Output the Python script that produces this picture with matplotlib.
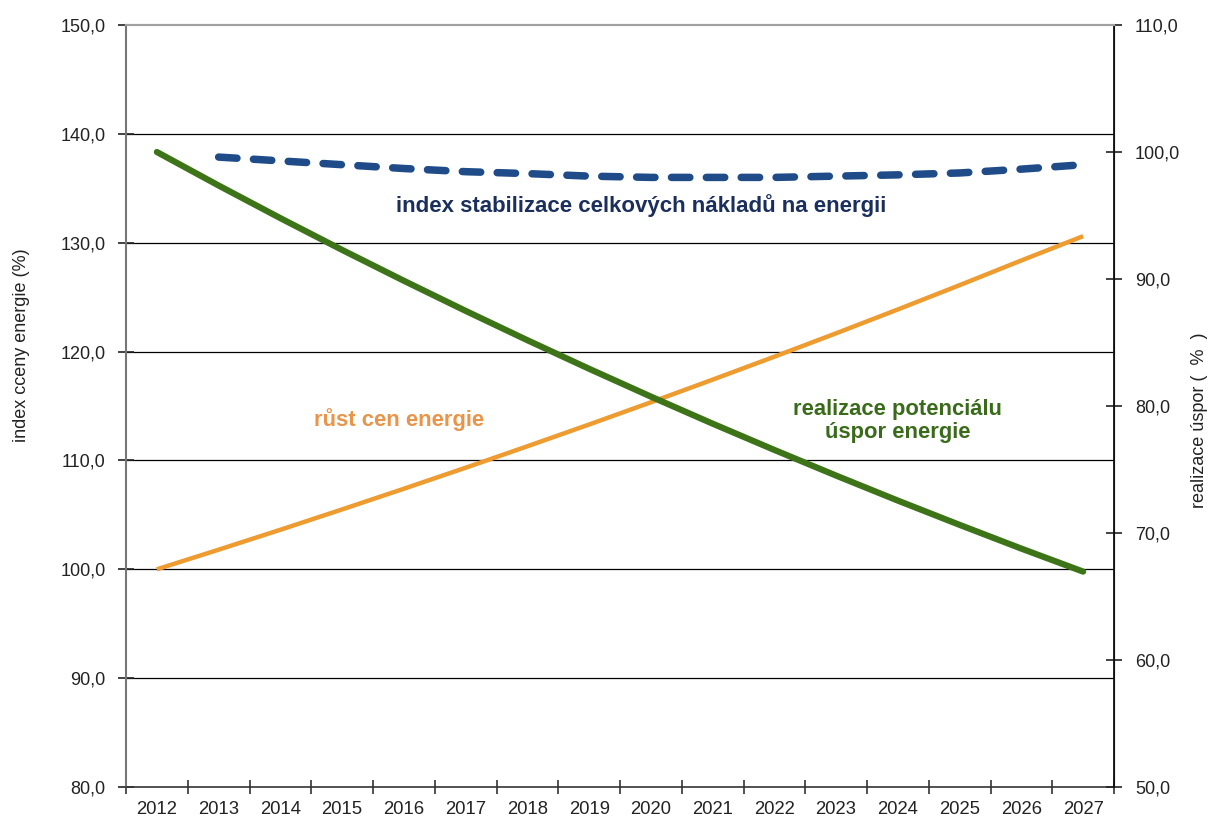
import matplotlib
matplotlib.use("Agg")
import matplotlib.pyplot as plt
from matplotlib.ticker import FixedLocator, FuncFormatter

plt.rcParams['font.family'] = ['Liberation Sans', 'DejaVu Sans']

years = list(range(2012, 2028))
# energy price index (%) - left axis
price_index = [100.0, 101.8, 103.63, 105.5, 107.4, 109.33, 111.3, 113.3,
               115.34, 117.42, 119.53, 121.68, 123.87, 126.1, 128.37, 130.6]
# realisation of savings potential (%) - right axis
savings = [100.0, 97.36, 94.79, 92.29, 89.86, 87.49, 85.18, 82.93,
           80.74, 78.61, 76.54, 74.52, 72.55, 70.64, 68.77, 66.96]
# total cost stabilisation index - right axis, from 2013
stab_years = list(range(2013, 2028))
stab_index = [99.6, 99.3, 99.0, 98.7, 98.45, 98.3, 98.1, 98.0,
              98.0, 98.0, 98.1, 98.2, 98.35, 98.65, 99.0]

left_ticks = [80, 90, 100, 110, 120, 130, 140, 150]
right_ticks = [50, 60, 70, 80, 90, 100, 110]

W, H = 1212, 816
fig = plt.figure(figsize=(W / 100, H / 100), dpi=100)
ax = fig.add_axes([126 / W, 1 - 787 / H, (1114 - 126) / W, (787 - 25) / H])
ax2 = ax.twinx()

comma = FuncFormatter(lambda v, p: f"{v:.1f}".replace(".", ","))

ax.set_xlim(2011.5, 2027.5)
ax.set_ylim(80, 150)
ax2.set_ylim(50, 110)

# horizontal grid on left-axis ticks
for v in left_ticks[1:-1]:
    ax.axhline(v, color='black', lw=0.9, zorder=1)

ax.yaxis.set_major_locator(FixedLocator(left_ticks))
ax.yaxis.set_major_formatter(comma)
ax2.yaxis.set_major_locator(FixedLocator(right_ticks))
ax2.yaxis.set_major_formatter(comma)

ax.xaxis.set_major_locator(FixedLocator(years))
ax.xaxis.set_minor_locator(FixedLocator([y - 0.5 for y in years] + [2027.5]))
ax.set_xticklabels([str(y) for y in years])
ax.tick_params(axis='x', which='major', length=0, labelsize=13.3, pad=10, colors='#222222')
ax.tick_params(axis='x', which='minor', length=10, width=1.2, direction='inout', color='#333333')
ax.tick_params(axis='y', length=12, width=1.2, direction='inout', labelsize=13, pad=8.5,
               colors='#222222')
ax2.tick_params(axis='y', length=12, width=1.2, direction='inout', labelsize=13, pad=9,
                colors='#222222')

for a in (ax, ax2):
    a.spines['top'].set_color('#a0a0a0')
    a.spines['top'].set_linewidth(1.5)
ax.spines['left'].set_color('#777777')
ax.spines['left'].set_linewidth(1.5)
ax.spines['bottom'].set_color('#333333')
ax.spines['bottom'].set_linewidth(1.2)
ax2.spines['right'].set_color('#111111')
ax2.spines['right'].set_linewidth(1.3)
ax2.spines['left'].set_visible(False)
ax2.spines['bottom'].set_visible(False)

# axis titles
fig.text(22 / W, 1 - 345 / H, 'index cceny energie (%)', rotation=90,
         ha='center', va='center', fontsize=13, color='#222222')
fig.text(1200 / W, 1 - 508 / H, 'realizace úspor (  %  )', rotation=90,
         ha='center', va='bottom', fontsize=13, color='#222222')

ax.plot(years, price_index, color='#EE9B30', lw=3.2, zorder=3, solid_capstyle='butt')
ax2.plot(years, savings, color='#3E7418', lw=4.5, zorder=3, solid_capstyle='round')
ln, = ax2.plot(stab_years, stab_index, color='#1F4C88', lw=5.4, zorder=3,
               dash_capstyle='round')
ln.set_dashes([2.45, 2.2])

ax.text(2019.85, 133.4, 'index stabilizace celkových nákladů na energii',
        ha='center', va='center', fontsize=16, fontweight='bold', color='#1B2F5C')
ax.text(2015.93, 113.8, 'růst cen energie', ha='center', va='center',
        fontsize=15.8, fontweight='bold', color='#E8954A')
ax.text(2024.0, 113.6, 'realizace potenciálu\núspor energie', ha='center', va='center',
        fontsize=15.8, fontweight='bold', color='#3A6B1A', linespacing=1.15)

fig.savefig('out.png', dpi=100)
